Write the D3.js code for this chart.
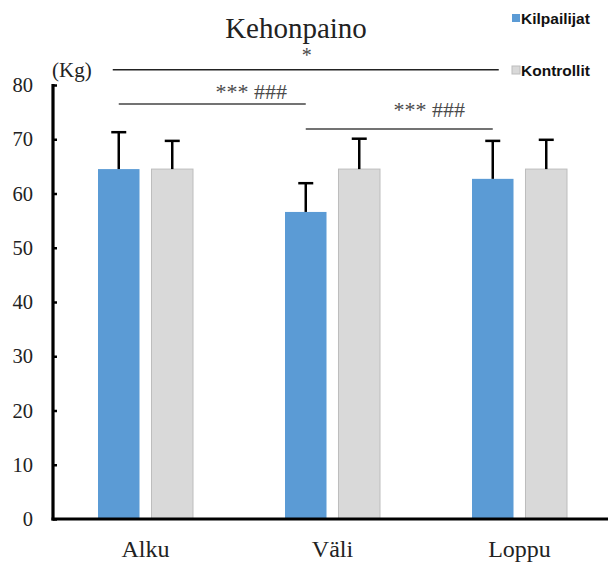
<!DOCTYPE html>
<html>
<head>
<meta charset="utf-8">
<script src="https://cdn.jsdelivr.net/npm/d3@7"></script>
<style>
  body { margin: 0; background: #fff; }
  svg { display: block; }
</style>
</head>
<body>
<svg width="608" height="562"></svg>
<script>
// Kehonpaino: kilpailijat vs kontrollit, kolme mittausta

const categories = ["Alku", "Väli", "Loppu"];
const seriesNames = ["Kilpailijat", "Kontrollit"];
const kilpailijat = [64.5, 56.6, 62.7];
const kilpailijatSd = [6.8, 5.3, 7.0];
const kontrollit = [64.5, 64.5, 64.5];
const kontrollitSd = [5.2, 5.6, 5.4];
const yTicks = [0, 10, 20, 30, 40, 50, 60, 70, 80];

// significance lines: from / to category, height in kg
const brackets = [
  { from: "Alku", to: "Loppu", level: 82.8, label: "*" },
  { from: "Alku", to: "Väli", level: 76.5, label: "*** ###" },
  { from: "Väli", to: "Loppu", level: 71.9, label: "*** ###" },
];

const colors = ["#5b9bd5", "#d9d9d9"];
const serif = "'Liberation Serif', 'Times New Roman', serif";
const sans = "'Liberation Sans', Arial, sans-serif";

const svg = d3.select("svg");

const x0 = d3.scaleBand().domain(categories).range([52, 613]).padding(0);
const x1 = d3.scaleBand().domain(seriesNames).range([-47.5, 47.5]).paddingInner(0.224);
const y = d3.scaleLinear().domain([0, 80]).range([519, 85]);

const rows = categories.map((c, i) => ({
  cat: c,
  values: [
    { name: seriesNames[0], v: kilpailijat[i], sd: kilpailijatSd[i] },
    { name: seriesNames[1], v: kontrollit[i], sd: kontrollitSd[i] },
  ],
}));

const center = (c) => x0(c) + x0.bandwidth() / 2;

// bars
const group = svg
  .selectAll(".grp")
  .data(rows)
  .enter()
  .append("g")
  .attr("class", "grp")
  .attr("transform", (d) => "translate(" + center(d.cat) + ",0)");

group
  .selectAll("rect")
  .data((d) => d.values)
  .enter()
  .append("rect")
  .attr("x", (d) => x1(d.name))
  .attr("y", (d) => y(d.v))
  .attr("width", x1.bandwidth())
  .attr("height", (d) => y(0) - y(d.v))
  .attr("fill", (d, i) => colors[i])
  .attr("stroke", (d, i) => (i === 1 ? "#bdbdbd" : "none"))
  .attr("stroke-width", 1);

// error bars (upper only)
const err = group
  .selectAll(".err")
  .data((d) => d.values)
  .enter()
  .append("g")
  .attr("class", "err")
  .attr("transform", (d) => "translate(" + (x1(d.name) + x1.bandwidth() / 2) + ",0)");

err
  .append("line")
  .attr("x1", 0)
  .attr("x2", 0)
  .attr("y1", (d) => y(d.v))
  .attr("y2", (d) => y(d.v + d.sd))
  .attr("stroke", "#000")
  .attr("stroke-width", 2.5);

err
  .append("line")
  .attr("x1", -7.5)
  .attr("x2", 7.5)
  .attr("y1", (d) => y(d.v + d.sd))
  .attr("y2", (d) => y(d.v + d.sd))
  .attr("stroke", "#000")
  .attr("stroke-width", 2.5);

// y axis
const yAxis = d3
  .axisLeft(y)
  .tickValues(yTicks)
  .tickSize(-4)
  .tickPadding(20)
  .tickFormat(d3.format("d"));

const yg = svg.append("g").attr("transform", "translate(53,0)").call(yAxis);
yg.select(".domain").remove();
yg.selectAll(".tick line").attr("stroke", "#000").attr("stroke-width", 2.5);
yg.selectAll(".tick text")
  .attr("font-family", serif)
  .attr("font-size", 20.5)
  .attr("fill", "#222");

svg
  .append("line")
  .attr("x1", 53)
  .attr("x2", 53)
  .attr("y1", y(80) - 1)
  .attr("y2", y(0) + 1.5)
  .attr("stroke", "#000")
  .attr("stroke-width", 3.2);

// x axis
const xAxis = d3.axisBottom(x0).tickSize(0).tickPadding(21);
const xg = svg.append("g").attr("transform", "translate(0," + y(0) + ")").call(xAxis);
xg.select(".domain").remove();
xg.selectAll(".tick text")
  .attr("font-family", serif)
  .attr("font-size", 24)
  .attr("fill", "#222");

svg
  .append("line")
  .attr("x1", 51.5)
  .attr("x2", 608)
  .attr("y1", y(0))
  .attr("y2", y(0))
  .attr("stroke", "#000")
  .attr("stroke-width", 3.2);

// unit
svg
  .append("text")
  .attr("x", 52)
  .attr("y", 77)
  .attr("font-family", serif)
  .attr("font-size", 21)
  .attr("fill", "#222")
  .text("(Kg)");

// title
svg
  .append("text")
  .attr("x", 296)
  .attr("y", 38)
  .attr("text-anchor", "middle")
  .attr("font-family", serif)
  .attr("font-size", 29)
  .attr("fill", "#222")
  .text("Kehonpaino");

// significance
const blueCenter = (c) => center(c) + x1(seriesNames[0]) + x1.bandwidth() / 2;
const lineExt = [6, 0, 0];
const labelDx = [1, 39, 30];
const labelGap = [8, 5, 12];

const br = svg.selectAll(".br").data(brackets).enter().append("g").attr("class", "br");

br.append("line")
  .attr("x1", (d, i) => blueCenter(d.from) - lineExt[i])
  .attr("x2", (d, i) => blueCenter(d.to) + lineExt[i])
  .attr("y1", (d) => y(d.level))
  .attr("y2", (d) => y(d.level))
  .attr("stroke", (d, i) => (i === 0 ? "#222" : "#444"))
  .attr("stroke-width", 1.5);

br.append("text")
  .attr("x", (d, i) => (blueCenter(d.from) + blueCenter(d.to)) / 2 + labelDx[i])
  .attr("y", (d, i) => y(d.level) - labelGap[i])
  .attr("text-anchor", "middle")
  .attr("font-family", serif)
  .attr("font-size", (d, i) => (i === 0 ? 20 : 22))
  .attr("fill", "#4a4a4a")
  .text((d) => d.label);

// legend
const legend = svg
  .selectAll(".leg")
  .data(seriesNames)
  .enter()
  .append("g")
  .attr("class", "leg")
  .attr("transform", (d, i) => "translate(512," + (14 + i * 52) + ")");

legend
  .append("rect")
  .attr("width", 8)
  .attr("height", 8)
  .attr("fill", (d, i) => colors[i])
  .attr("stroke", (d, i) => (i === 1 ? "#bdbdbd" : "none"));

legend
  .append("text")
  .attr("x", 9)
  .attr("y", 9.5)
  .attr("font-family", sans)
  .attr("font-weight", "bold")
  .attr("font-size", 15.5)
  .attr("fill", "#111")
  .text((d) => d);
</script>
</body>
</html>
